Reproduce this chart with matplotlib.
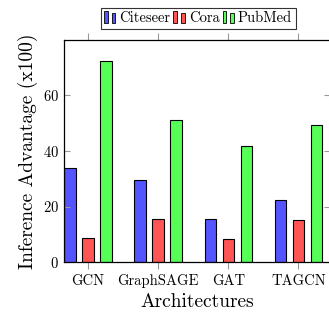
import numpy as np
import matplotlib
matplotlib.use("Agg")
import matplotlib.pyplot as plt
from matplotlib.legend_handler import HandlerBase
from matplotlib.patches import Rectangle

plt.rcParams['font.family'] = 'serif'
plt.rcParams['font.serif'] = ['cmr10', 'DejaVu Serif']
plt.rcParams['mathtext.fontset'] = 'cm'
plt.rcParams['axes.formatter.use_mathtext'] = True

architectures = ['GCN', 'GraphSAGE', 'GAT', 'TAGCN']
citeseer = [34.0, 29.5, 15.5, 22.3]
cora = [8.8, 15.5, 8.4, 15.1]
pubmed = [72.4, 51.2, 41.8, 49.4]

series = [('Citeseer', citeseer, '#5555ff'),
          ('Cora', cora, '#ff5555'),
          ('PubMed', pubmed, '#55ff55')]


# pgfplots style ybar legend icon: two little bars
class TwoBars(HandlerBase):
    def create_artists(self, legend, orig, xd, yd, w, h, fontsize, trans):
        col = orig.get_facecolor()
        bw = w * 0.3
        r1 = Rectangle((xd, yd - 0.1 * h), bw, h * 1.2, facecolor=col,
                       edgecolor='black', linewidth=0.6, transform=trans)
        r2 = Rectangle((xd + w * 0.6, yd - 0.1 * h), bw, h * 1.0, facecolor=col,
                       edgecolor='black', linewidth=0.6, transform=trans)
        return [r1, r2]


fig = plt.figure(figsize=(3.29, 3.16), dpi=100)
ax = fig.add_axes([64 / 329, 1 - 262 / 316, 266 / 329, 222 / 316])

x = np.arange(len(architectures))
offset = 0.257
width = 0.165
handles = []
for i, (name, vals, col) in enumerate(series):
    bars = ax.bar(x + (i - 1) * offset, vals, width, color=col, edgecolor='black',
                  linewidth=0.8, label=name)
    handles.append(bars.patches[0])

ax.set_xlim(-0.343, 3.45)
ax.set_ylim(0, 80)
ax.set_xticks(x)
ax.set_xticklabels(architectures, fontsize=10.5)
ax.set_yticks([0, 20, 40, 60])
ax.tick_params(axis='y', direction='in', left=True, right=True, length=4,
               color='#999999', labelsize=10.5)
ax.tick_params(axis='x', direction='out', top=True, bottom=True, length=5,
               color='#999999', labelsize=10.5)
ax.set_xlabel('Architectures', fontsize=14)
ax.set_ylabel('Inference Advantage (x100)', fontsize=14)

for s in ax.spines.values():
    s.set_linewidth(0.9)

ax.legend(handles, [s[0] for s in series], loc='upper center',
          bbox_to_anchor=(0.504, 1.144), ncol=3,
          fontsize=10.5, frameon=True, fancybox=False, edgecolor='black',
          handler_map={Rectangle: TwoBars()},
          handlelength=0.85, handleheight=0.7, handletextpad=0.2,
          columnspacing=0.2, borderpad=0.25, borderaxespad=0)
ax.get_legend().get_frame().set_linewidth(0.8)

fig.savefig('out.png', dpi=100)
